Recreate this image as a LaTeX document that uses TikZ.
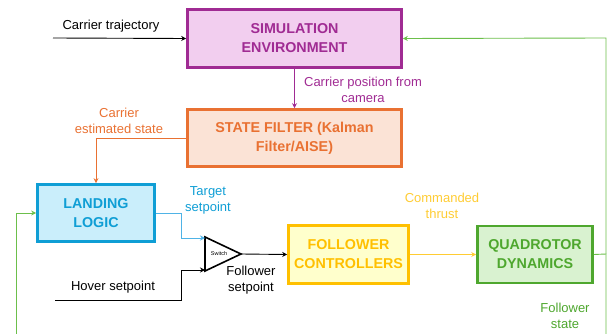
\documentclass[tikz,border=0pt]{standalone}
\usepackage{fontspec}
\setmainfont{Liberation Sans}
\usetikzlibrary{arrows.meta}
\definecolor{cpur}{HTML}{A02B93}
\definecolor{cpurf}{HTML}{F2CEEF}
\definecolor{cora}{HTML}{E97132}
\definecolor{coraf}{HTML}{FBE3D6}
\definecolor{cblu}{HTML}{0F9ED5}
\definecolor{cbluf}{HTML}{CAEEFB}
\definecolor{cbll}{HTML}{4FB3E6}
\definecolor{cyel}{HTML}{FFC000}
\definecolor{cyelf}{HTML}{FFFFCC}
\definecolor{cyell}{HTML}{FFCC33}
\definecolor{cgrn}{HTML}{4EA72E}
\definecolor{cgrnf}{HTML}{D9F2D0}
\definecolor{cgrnl}{HTML}{6CBF4B}
\tikzset{
  blk/.style={draw, line width=2.6pt, align=center, font=\fontsize{14.3}{19}\selectfont\bfseries, inner sep=0pt},
  lbl/.style={align=center, font=\fontsize{13}{16}\selectfont, inner sep=0pt},
  conn/.style={line width=0.9pt, -{Stealth[length=5pt,width=5pt]}},
  plain/.style={line width=0.9pt}
}
\begin{document}
\begin{tikzpicture}[x=1pt,y=-1pt]
\useasboundingbox (0,0) rectangle (608,334);
\clip (0,0) rectangle (608,334);
% boxes
\node[blk, draw=cpur, fill=cpurf, text=cpur, minimum width=214pt, minimum height=58pt] (sim) at (294.5,38.5) {SIMULATION\\ENVIRONMENT};
\node[blk, draw=cora, fill=coraf, text=cora, minimum width=214pt, minimum height=57pt] (filt) at (294.5,138) {STATE FILTER (Kalman\\Filter/AISE)};
\node[blk, draw=cblu, fill=cbluf, text=cblu, minimum width=117pt, minimum height=57pt] (land) at (96,213) {LANDING\\LOGIC};
\node[blk, draw=cyel, fill=cyelf, text=cyel, minimum width=120pt, minimum height=58pt] (fc) at (348.5,254.5) {FOLLOWER\\CONTROLLERS};
\node[blk, draw=cgrn, fill=cgrnf, text=cgrn, minimum width=115pt, minimum height=57pt] (qd) at (535,254.5) {QUADROTOR\\DYNAMICS};
% switch
\coordinate (swa) at (205,237);
\coordinate (swb) at (205,271);
\coordinate (swo) at (241,254);
\draw[line width=1.6pt, fill=white, line join=miter] (swa) -- (swb) -- (swo) -- cycle;
\node[font=\fontsize{5.5}{6}\selectfont, inner sep=0pt] (sw) at (219,254) {Switch};
\coordinate (swin1) at (205,238);
\coordinate (swin2) at (205,270);
% coordinates
\coordinate (ctin) at (53,38);
\coordinate (gr1) at (606,254);
\coordinate (gr2) at (606,38);
\coordinate (gr3) at (606,340);
\coordinate (gl1) at (16,340);
\coordinate (gl2) at (16,213);
\coordinate (or1) at (96,138);
\coordinate (bl1) at (181,213);
\coordinate (bl2) at (181,238);
\coordinate (hv0) at (55,300);
\coordinate (hv1) at (181,300);
\coordinate (hv2) at (181,270);
% connectors
\draw[conn] (ctin) -- (sim.west);
\draw[conn, cpur] (sim.south) -- (filt.north);
\draw[conn, cora] (filt.west) -- (or1) -- (land.north);
\draw[conn, cbll] (land.east) -- (bl1) -- (bl2) -- (swin1);
\draw[conn] (hv0) -- (hv1) -- (hv2) -- (swin2);
\draw[conn] (swo) -- (fc.west);
\draw[conn, cyell] (fc.east) -- (qd.west);
\draw[plain, cgrnl] (qd.east) -- (gr1) -- (gr3);
\draw[conn, cgrnl] (gr1) -- (gr2) -- (sim.east);
\draw[conn, cgrnl] (gl1) -- (gl2) -- (land.west);
% labels
\node[lbl] (l1) at (111,26) {Carrier trajectory};
\node[lbl, text=cpur] (l2) at (363,90) {Carrier position from\\camera};
\node[lbl, text=cora] (l3) at (119,121) {Carrier\\estimated state};
\node[lbl, text=cblu] (l4) at (208,200) {Target\\setpoint};
\node[lbl] (l5) at (113,287) {Hover setpoint};
\node[lbl] (l6) at (251,280) {Follower\\setpoint};
\node[lbl, text=cyell] (l7) at (442,206) {Commanded\\thrust};
\node[lbl, text=cgrn] (l8) at (565,316) {Follower\\state};
\end{tikzpicture}
\end{document}
